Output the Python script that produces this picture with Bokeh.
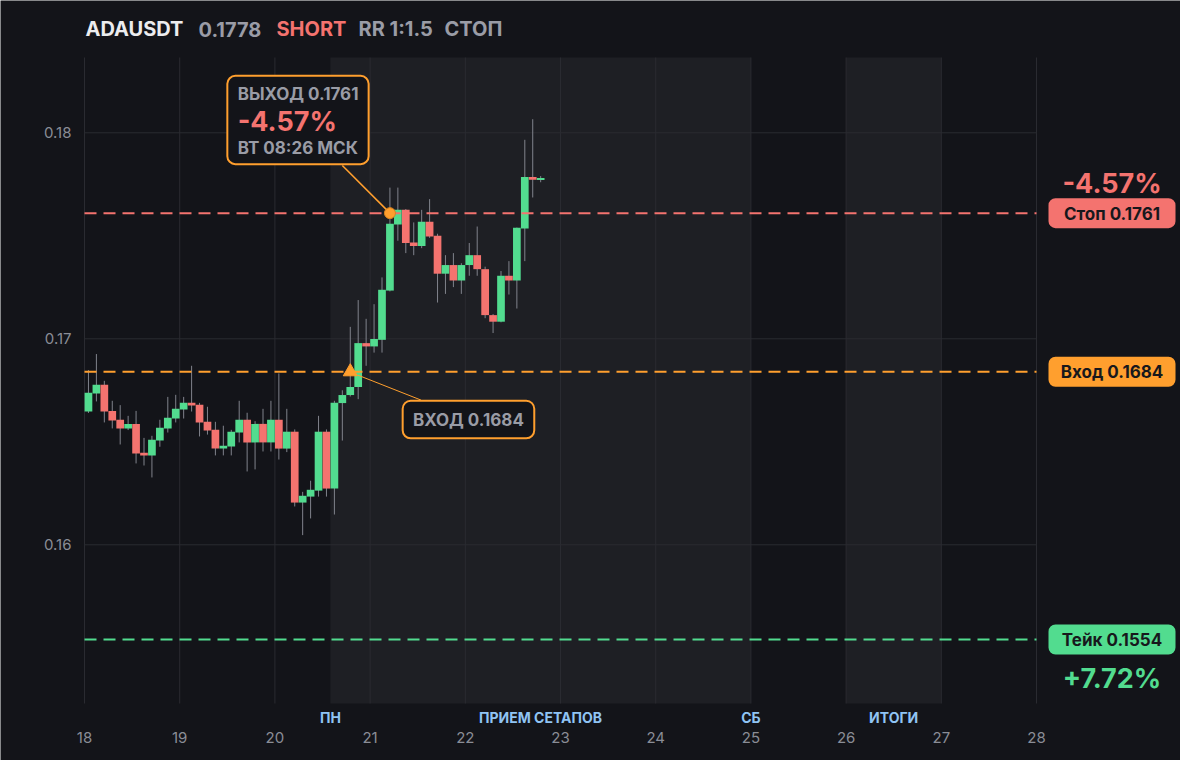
import numpy as np
from bokeh.plotting import figure
from bokeh.models import Range1d, BoxAnnotation, Label
from bokeh.core.properties import value
from bokeh.embed import file_html
from bokeh.resources import INLINE

# ---------------- data ----------------
symbol = "ADAUSDT"
last_price = 0.1778
side = "SHORT"
rr_text = "RR 1:1.5"
status_text = "СТОП"

start_day = 18.0          # first bar starts here (day of month)
bar_hours = 2             # 2h candles

opens = [0.16647, 0.16735, 0.16777, 0.16650, 0.16607, 0.16565, 0.16587, 0.16447, 0.16434, 0.16506,
         0.16565, 0.16613, 0.16657, 0.16689, 0.16680, 0.16597, 0.16558, 0.16467, 0.16477, 0.16545,
         0.16607, 0.16497, 0.16587, 0.16497, 0.16607, 0.16467, 0.16549, 0.16205, 0.16234, 0.16263,
         0.16549, 0.16273, 0.16688, 0.16727, 0.16766, 0.16979, 0.16963, 0.16995, 0.17234, 0.17555,
         0.17626, 0.17468, 0.17451, 0.17568, 0.17500, 0.17316, 0.17358, 0.17283, 0.17358, 0.17406,
         0.17338, 0.17115, 0.17083, 0.17306, 0.17283, 0.17535, 0.17785, 0.17772]
highs = [0.16848, 0.16926, 0.16796, 0.16699, 0.16678, 0.16626, 0.16650, 0.16519, 0.16529, 0.16607,
         0.16718, 0.16728, 0.16718, 0.16869, 0.16689, 0.16670, 0.16597, 0.16578, 0.16558, 0.16699,
         0.16641, 0.16600, 0.16660, 0.16699, 0.16832, 0.16660, 0.16560, 0.16257, 0.16311, 0.16626,
         0.16560, 0.16699, 0.16750, 0.17058, 0.17188, 0.17097, 0.17168, 0.17298, 0.17734, 0.17734,
         0.17630, 0.17565, 0.17626, 0.17678, 0.17510, 0.17406, 0.17416, 0.17367, 0.17465, 0.17545,
         0.17350, 0.17120, 0.17329, 0.17377, 0.17540, 0.17966, 0.18066, 0.17790]
lows = [0.16640, 0.16696, 0.16594, 0.16565, 0.16487, 0.16557, 0.16395, 0.16385, 0.16327, 0.16476,
        0.16545, 0.16594, 0.16613, 0.16647, 0.16526, 0.16535, 0.16434, 0.16434, 0.16434, 0.16497,
        0.16356, 0.16366, 0.16453, 0.16453, 0.16414, 0.16450, 0.16186, 0.16047, 0.16128, 0.16234,
        0.16234, 0.16147, 0.16506, 0.16720, 0.16707, 0.16869, 0.16933, 0.16933, 0.17230, 0.17476,
        0.17416, 0.17406, 0.17440, 0.17490, 0.17176, 0.17218, 0.17251, 0.17218, 0.17306, 0.17306,
        0.17100, 0.17028, 0.17080, 0.17215, 0.17147, 0.17377, 0.17686, 0.17760]
closes = [0.16738, 0.16777, 0.16647, 0.16603, 0.16565, 0.16587, 0.16443, 0.16434, 0.16510, 0.16568,
          0.16617, 0.16660, 0.16689, 0.16676, 0.16594, 0.16555, 0.16467, 0.16481, 0.16549, 0.16607,
          0.16497, 0.16587, 0.16497, 0.16607, 0.16467, 0.16549, 0.16205, 0.16238, 0.16267, 0.16549,
          0.16273, 0.16689, 0.16727, 0.16766, 0.16979, 0.16963, 0.16999, 0.17238, 0.17558, 0.17626,
          0.17465, 0.17451, 0.17568, 0.17497, 0.17316, 0.17358, 0.17283, 0.17358, 0.17406, 0.17338,
          0.17115, 0.17083, 0.17306, 0.17283, 0.17539, 0.17785, 0.17772, 0.17780]

entry_price = 0.1684
stop_price = 0.1761
take_price = 0.1554
entry_bar = 33            # bar index of the entry marker
exit_bar = 38             # bar index of the exit marker
exit_time_text = "ВТ 08:26 МСК"

day_ticks = [18, 19, 20, 21, 22, 23, 24, 25, 26, 27, 28]
price_ticks = [0.16, 0.17, 0.18]
band_starts = [20.583, 26.0]
band_ends = [25.0, 27.0]
period_labels = ["ПН", "ПРИЕМ СЕТАПОВ", "СБ", "ИТОГИ"]
period_label_x = [20.583, 22.79, 25.0, 26.5]

# ---------------- style ----------------
BG = "#131419"
BAND = "#1e1f24"
GRID = "#2a2b31"
GREEN = "#52dc8f"
RED = "#f4736f"
ORANGE = "#ff9f2e"
WICK = "#80838c"
GREY_TXT = "#9a9ca6"
AXIS_TXT = "#8a8d96"
BLUE_TXT = "#90c4f4"
WHITE_TXT = "#ececee"
DARK_TXT = "#17181c"
FONT = "Inter"

W, H = 1180, 760
# plot area (in canvas pixels) that holds days 18..28
PL, PR, PT, PB = 84, 1036, 57, 703
D_LO, D_HI = 18.0, 28.0
PXD = (PR - PL) / (D_HI - D_LO)          # px per day
PXU = 20600.0                            # px per price unit
Y_REF, Y_REF_PX = 0.18, 132.3

X_LO = D_LO - PL / PXD
X_HI = D_LO + (W - PL) / PXD
Y_HI = Y_REF + Y_REF_PX / PXU
Y_LO = Y_REF - (H - Y_REF_PX) / PXU
PLOT_TOP = Y_REF + (Y_REF_PX - PT) / PXU
PLOT_BOT = Y_REF - (PB - Y_REF_PX) / PXU


def X(px):  # canvas pixel -> data x (layout helper for texts/boxes)
    return X_LO + px / PXD


def Y(py):  # canvas pixel -> data y
    return Y_HI - py / PXU


def ox(x, dpx):
    return x + dpx / PXD


def oy(y, dpy):
    return y - dpy / PXU


n = len(opens)
bar_w = bar_hours / 24.0
t = start_day + (np.arange(n) + 0.5) * bar_w
o = np.array(opens); h = np.array(highs); l = np.array(lows); c = np.array(closes)
body_top = np.maximum(o, c)
body_bot = np.minimum(o, c)
min_body = 2.0 / PXU
thin = (body_top - body_bot) < min_body
mid = (body_top + body_bot) / 2
body_top = np.where(thin, mid + min_body / 2, body_top)
body_bot = np.where(thin, mid - min_body / 2, body_bot)
colors = [GREEN if cc >= oo else RED for oo, cc in zip(opens, closes)]

p = figure(width=W, height=H, output_backend="svg", toolbar_location=None,
           x_range=Range1d(X_LO, X_HI), y_range=Range1d(Y_LO, Y_HI),
           x_axis_location=None, y_axis_location=None,
           min_border=0, min_border_left=0, min_border_right=0,
           min_border_top=0, min_border_bottom=0)
p.background_fill_color = BG
p.border_fill_color = BG
p.outline_line_color = None
p.grid.visible = False

# shaded periods
p.quad(left=band_starts, right=band_ends, top=PLOT_TOP, bottom=PLOT_BOT,
       fill_color=BAND, line_color=None)

# grid
p.segment(x0=day_ticks, x1=day_ticks, y0=PLOT_BOT, y1=PLOT_TOP, line_color=GRID, line_width=1)
p.segment(x0=D_LO, x1=D_HI, y0=price_ticks, y1=price_ticks, line_color=GRID, line_width=1)

# tick labels
p.text(x=day_ticks, y=Y(737), text=[str(d) for d in day_ticks], text_font=value(FONT),
       text_font_size="15px", text_color=AXIS_TXT, text_align="center", text_baseline="middle")
p.text(x=X(71), y=price_ticks, text=[f"{v:.2f}" for v in price_ticks], text_font=value(FONT),
       text_font_size="15px", text_color=AXIS_TXT, text_align="right", text_baseline="middle")

# candles
p.segment(x0=t, y0=l, x1=t, y1=h, line_color=WICK, line_width=1)
p.vbar(x=t, width=bar_w * 0.97, top=body_top, bottom=body_bot,
       fill_color=colors, line_color=None)

# level lines
levels = [stop_price, entry_price, take_price]
level_colors = [RED, ORANGE, GREEN]
p.segment(x0=D_LO, x1=D_HI, y0=levels, y1=levels, line_color=level_colors,
          line_width=2, line_dash="12 7")

# entry / exit markers
ex, ey = t[exit_bar], stop_price
nx, ny = t[entry_bar], entry_price

p.segment(x0=[ox(ex, -47.6)], y0=[oy(ey, -47.6)], x1=[ex], y1=[ey],
          line_color=ORANGE, line_width=1.6)
p.segment(x0=[ox(nx, 7.4)], y0=[oy(ny, 3.3)], x1=[ox(nx, 70.7)], y1=[oy(ny, 28.3)],
          line_color=ORANGE, line_width=1)
p.scatter(x=[ex], y=[ey], marker="circle", size=11, fill_color=ORANGE, line_color="#d9841f")
p.scatter(x=[nx], y=[ny], marker="triangle", size=14, fill_color=ORANGE, line_color=ORANGE)

stop_pct = (entry_price - stop_price) / entry_price * 100
take_pct = (entry_price - take_price) / entry_price * 100

# exit callout
p.add_layout(BoxAnnotation(left=ox(ex, -162.6), right=ox(ex, -21.3),
                           top=oy(ey, -137.3), bottom=oy(ey, -49),
                           fill_color=BG, fill_alpha=1.0, line_color=ORANGE, line_alpha=1.0,
                           line_width=2, border_radius=8))
p.add_layout(Label(x=ox(ex, -152.3), y=oy(ey, -119.3), text=f"ВЫХОД {stop_price:.4f}",
                   text_font=FONT, text_font_size="17px", text_font_style="bold",
                   text_color=GREY_TXT, text_align="left", text_baseline="middle"))
p.add_layout(Label(x=ox(ex, -152.3), y=oy(ey, -91.3), text=f"{stop_pct:+.2f}%",
                   text_font=FONT, text_font_size="27px", text_font_style="bold",
                   text_color=RED, text_align="left", text_baseline="middle"))
p.add_layout(Label(x=ox(ex, -152.3), y=oy(ey, -65.3), text=exit_time_text,
                   text_font=FONT, text_font_size="17px", text_font_style="bold",
                   text_color=GREY_TXT, text_align="left", text_baseline="middle"))

# entry callout
p.add_layout(BoxAnnotation(left=ox(nx, 52.4), right=ox(nx, 184),
                           top=oy(ny, 29), bottom=oy(ny, 66.6),
                           fill_color=BG, fill_alpha=1.0, line_color=ORANGE, line_alpha=1.0,
                           line_width=2, border_radius=8))
p.add_layout(Label(x=ox(nx, 118.2), y=oy(ny, 47.8), text=f"ВХОД {entry_price:.4f}",
                   text_font=FONT, text_font_size="17px", text_font_style="bold",
                   text_color=GREY_TXT, text_align="center", text_baseline="middle"))

# right-hand price tags
tag_l, tag_r = X(1048), X(1175)
tag_cx = (tag_l + tag_r) / 2
for lvl, col, name in ((stop_price, RED, "Стоп"), (entry_price, ORANGE, "Вход"),
                       (take_price, GREEN, "Тейк")):
    p.add_layout(BoxAnnotation(left=tag_l, right=tag_r, top=oy(lvl, -15), bottom=oy(lvl, 15),
                               fill_color=col, fill_alpha=1.0, line_color=None,
                               border_radius=7))
    p.add_layout(Label(x=tag_cx, y=oy(lvl, 0.5), text=f"{name} {lvl:.4f}",
                       text_font=FONT, text_font_size="17px", text_font_style="bold",
                       text_color=DARK_TXT, text_align="center", text_baseline="middle"))
p.add_layout(Label(x=tag_cx, y=oy(stop_price, -30), text=f"{stop_pct:+.2f}%",
                   text_font=FONT, text_font_size="27px", text_font_style="bold",
                   text_color=RED, text_align="center", text_baseline="middle"))
p.add_layout(Label(x=tag_cx, y=oy(take_price, 39), text=f"{take_pct:+.2f}%",
                   text_font=FONT, text_font_size="27px", text_font_style="bold",
                   text_color=GREEN, text_align="center", text_baseline="middle"))

# period labels under the plot area
for lx, txt in zip(period_label_x, period_labels):
    p.add_layout(Label(x=lx, y=Y(717), text=txt, text_font=FONT, text_font_size="14px",
                       text_font_style="bold", text_color=BLUE_TXT,
                       text_align="center", text_baseline="middle"))

# header
header = [(symbol, WHITE_TXT, 85), (f"{last_price:.4f}", GREY_TXT, 198),
          (side, RED, 276), (rr_text, GREY_TXT, 358), (status_text, GREY_TXT, 444)]
for txt, col, px in header:
    p.add_layout(Label(x=X(px), y=Y(28.5), text=txt, text_font=FONT, text_font_size="20px",
                       text_font_style="bold", text_color=col,
                       text_align="left", text_baseline="middle"))

open("out.html", "w").write(file_html(p, INLINE))
